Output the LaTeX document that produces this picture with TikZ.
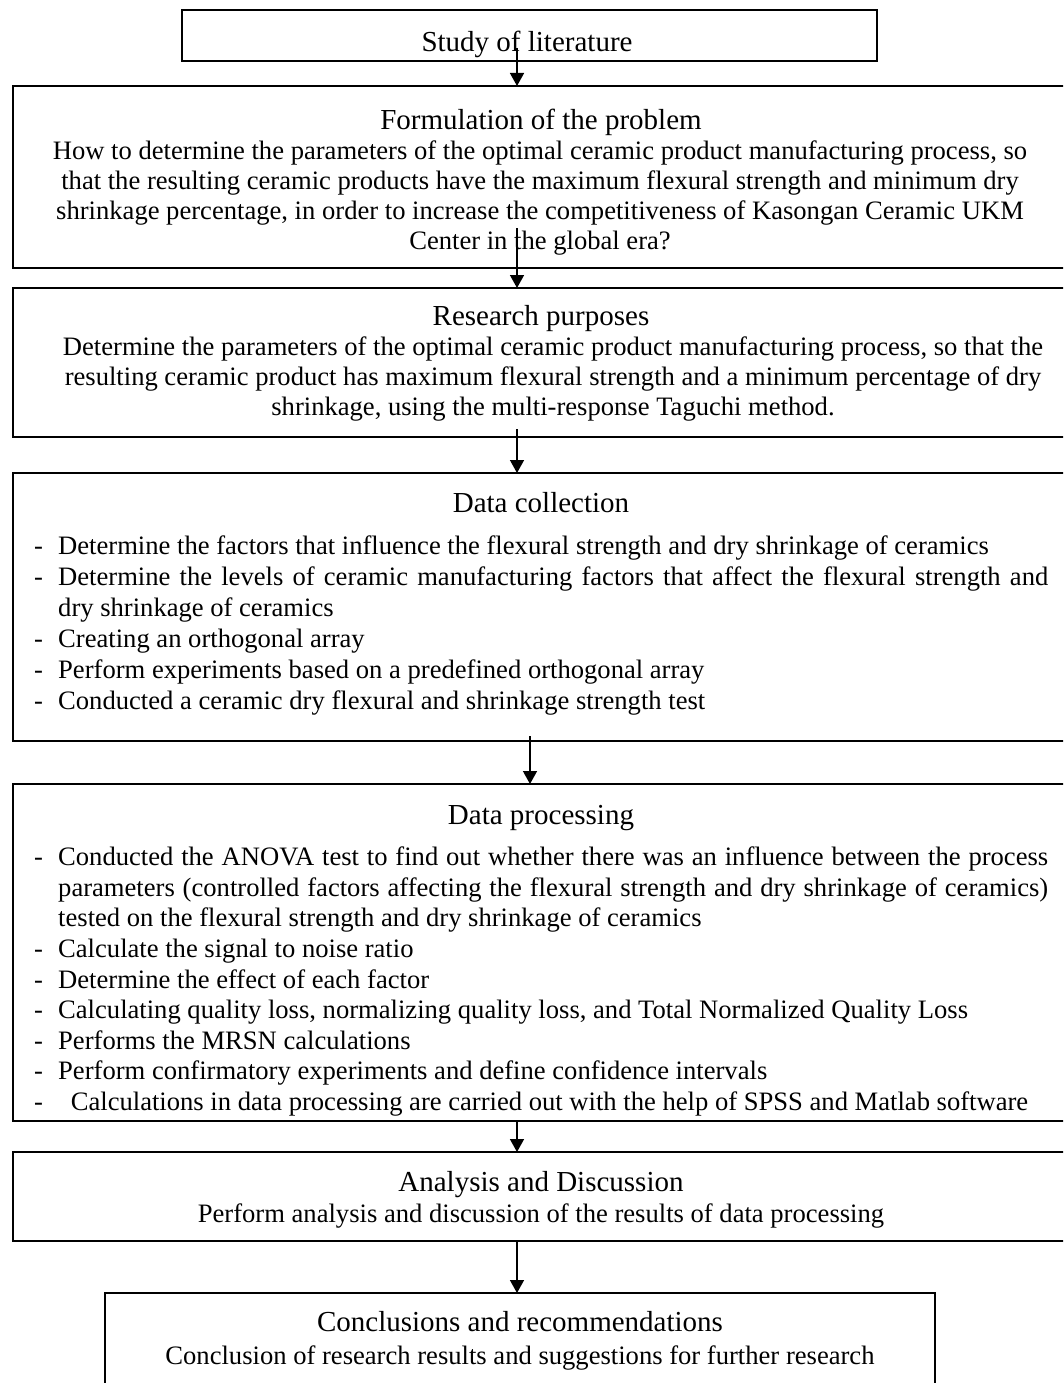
\documentclass[tikz,border=0pt]{standalone}
\usepackage{fontspec}
\setmainfont{Liberation Serif}
\usetikzlibrary{arrows.meta}
\newcommand\myitem[1][24pt]{\par\noindent\hangindent=24pt\hangafter=1\strut\makebox[#1][l]{-}}
\tikzset{
  box/.style={draw=black, line width=1.8pt, inner sep=0pt, outer sep=0pt},
  ttl/.style={inner sep=0pt, anchor=north, align=center, font=\fontsize{29}{30}\selectfont},
  txt/.style={inner sep=0pt, anchor=north, align=center, font=\fontsize{26.6}{30}\selectfont},
  lst/.style={inner sep=0pt, anchor=north west, text width=1014pt, align=justify},
  arr/.style={line width=1.5pt, -{Triangle[width=14pt,length=13pt]}},
}
\begin{document}
\begin{tikzpicture}[x=1pt,y=-1pt]
\useasboundingbox (0,0) rectangle (1063,1383);
\clip (0,0) rectangle (1063,1383);
\fill[white] (0,0) rectangle (1063,1383);
% boxes
\node[box, minimum width=695pt, minimum height=51pt] (b1) at (529.5,35.5) {};
\node[box, minimum width=1056pt, minimum height=182pt] (b2) at (541,177) {};
\node[box, minimum width=1056pt, minimum height=149pt] (b3) at (541,362.5) {};
\node[box, minimum width=1056pt, minimum height=268pt] (b4) at (541,607) {};
\node[box, minimum width=1056pt, minimum height=337pt] (b5) at (541,952.5) {};
\node[box, minimum width=1056pt, minimum height=89pt] (b6) at (541,1196.5) {};
\node[box, minimum width=830pt, minimum height=160pt] (b7) at (520,1373) {};
% texts
\node[ttl] (t1) at (527,30.6) {\strut Study of literature};
\node[ttl] (t2) at (541,108.6) {\strut Formulation of the problem};
\node[txt] (x2) at (540,137.8) {\strut How to determine the parameters of the optimal ceramic product manufacturing process, so\\
that the resulting ceramic products have the maximum flexural strength and minimum dry\\
shrinkage percentage, in order to increase the competitiveness of Kasongan Ceramic UKM\\
Center in the global era?};
\node[ttl] (t3) at (541,304.6) {\strut Research purposes};
\node[txt] (x3) at (553,333.8) {\strut Determine the parameters of the optimal ceramic product manufacturing process, so that the\\
resulting ceramic product has maximum flexural strength and a minimum percentage of dry\\
shrinkage, using the multi-response Taguchi method.};
\node[ttl] (t4) at (541,491.6) {\strut Data collection};
\node[lst, font=\fontsize{26.6}{31}\selectfont] (x4) at (34,522.8) {\tolerance=9999
\myitem Determine the factors that influence the flexural strength and dry shrinkage of ceramics
\myitem Determine the levels of ceramic manufacturing factors that affect the flexural strength and\linebreak dry shrinkage of ceramics
\myitem Creating an orthogonal array
\myitem Perform experiments based on a predefined orthogonal array
\myitem Conducted a ceramic dry flexural and shrinkage strength test\par};
\node[ttl] (t5) at (541,803.6) {\strut Data processing};
\node[lst, font=\fontsize{26.6}{30.6}\selectfont] (x5) at (34,834.8) {\tolerance=9999
\myitem Conducted the ANOVA test to find out whether there was an influence between the process\linebreak parameters (controlled factors affecting the flexural strength and dry shrinkage of ceramics)\linebreak tested on the flexural strength and dry shrinkage of ceramics
\myitem Calculate the signal to noise ratio
\myitem Determine the effect of each factor
\myitem Calculating quality loss, normalizing quality loss, and Total Normalized Quality Loss
\myitem Performs the MRSN calculations
\myitem Perform confirmatory experiments and define confidence intervals
\myitem[30pt] Calculations in data processing are carried out with the help of SPSS and Matlab software\par};
\node[ttl] (t6) at (541,1170.6) {\strut Analysis and Discussion};
\node[txt] (x6) at (541,1200.8) {\strut Perform analysis and discussion of the results of data processing};
\node[ttl] (t7) at (520,1310.6) {\strut Conclusions and recommendations};
\node[txt] (x7) at (520,1342.8) {\strut Conclusion of research results and suggestions for further research};
% connectors
\coordinate (s1) at (517,48);
\coordinate (s2) at (517,228);
\coordinate (s3) at (517,429);
\coordinate (s4) at (530,736);
\coordinate (s5) at (517,1121);
\coordinate (s6) at (517,1241);
\draw[arr] (s1) -- (s1 |- b2.north);
\draw[arr] (s2) -- (s2 |- b3.north);
\draw[arr] (s3) -- (s3 |- b4.north);
\draw[arr] (s4) -- (s4 |- b5.north);
\draw[arr] (s5) -- (s5 |- b6.north);
\draw[arr] (s6) -- (s6 |- b7.north);
\end{tikzpicture}
\end{document}
